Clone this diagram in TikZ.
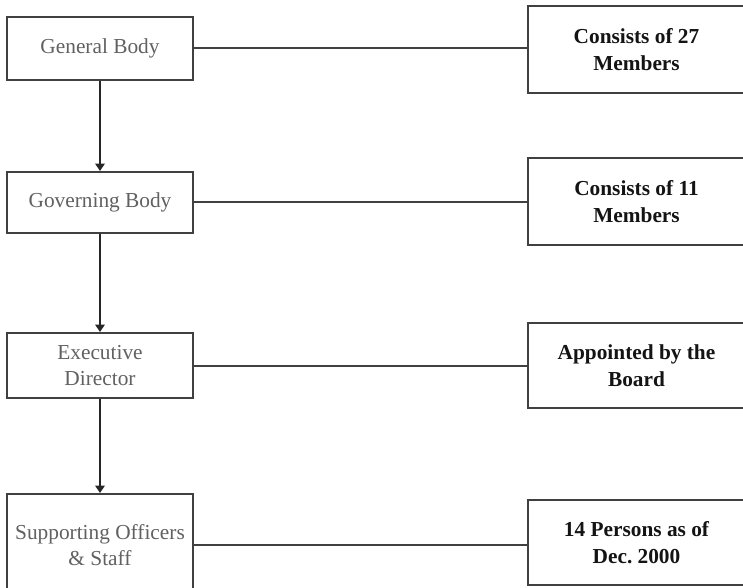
\documentclass[tikz,border=0pt]{standalone}
\usepackage{fontspec}
\setmainfont{Liberation Serif}
\usetikzlibrary{arrows.meta}

\tikzset{every picture/.style={line width=1.5pt}}
\tikzset{
  unitbox/.style={draw=black!75, fill=white, align=center, inner sep=0pt,
    minimum width=139.5pt, text=black!62, font=\fontsize{16}{19}\selectfont},
  notebox/.style={draw=black!75, fill=white, align=center, inner sep=0pt,
    minimum width=162.75pt, text=black!92, font=\fontsize{16}{20}\selectfont\bfseries},
  link/.style={draw=black!75},
  down/.style={draw=black!85, -{Triangle[width=7pt,length=5.5pt]}}
}

\begin{document}
\begin{tikzpicture}[x=0.75pt,y=0.75pt,yscale=-1,xscale=1]
\clip (0,0) rectangle (743,588); %picture is 743 x 588

%Left column
\node [unitbox, minimum height=47.25pt] (general) at (100,48.5) {General Body};
\node [unitbox, minimum height=45.75pt] (governing) at (100,202.5) {Governing Body};
\node [unitbox, minimum height=48.75pt] (director) at (100,365.5) {Executive\\Director};
\node [unitbox, minimum height=76.5pt] (staff) at (100,545) {Supporting Officers\\\&\ Staff};

%Right column
\node [notebox, minimum height=65.25pt] (members27) at (636.5,49.5) {Consists of 27\\Members};
\node [notebox, minimum height=65.25pt] (members11) at (636.5,201.5) {Consists of 11\\Members};
\node [notebox, minimum height=63.75pt] (board) at (636.5,365.5) {Appointed by the\\Board};
\node [notebox, minimum height=63.75pt] (persons) at (636.5,542.5) {14 Persons as of\\Dec.\ 2000};

%Straight Lines
\draw [link] (general.east) -- (general.east -| members27.west);
\draw [link] (governing.east) -- (governing.east -| members11.west);
\draw [link] (director.east) -- (director.east -| board.west);
\draw [link] (staff.east) -- (staff.east -| persons.west);

%Arrows
\draw [down] (general.south) -- (governing.north);
\draw [down] (governing.south) -- (director.north);
\draw [down] (director.south) -- (staff.north);

\end{tikzpicture}
\end{document}
